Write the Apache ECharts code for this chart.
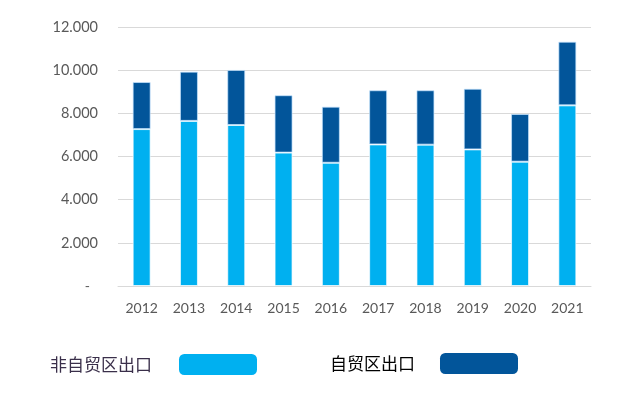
<!DOCTYPE html>
<html><head><meta charset="utf-8">
<script src="https://cdn.jsdelivr.net/npm/echarts@6/dist/echarts.min.js"></script>
<style>html,body{margin:0;padding:0;background:#fff}#c{width:619px;height:395px}</style>
</head><body><div id="c"></div>
<script>
const years = ['2012','2013','2014','2015','2016','2017','2018','2019','2020','2021'];
const nonFtz = [7.27, 7.65, 7.46, 6.18, 5.71, 6.56, 6.55, 6.33, 5.76, 8.37];
const ftz = [2.18, 2.28, 2.55, 2.66, 2.60, 2.51, 2.52, 2.81, 2.21, 2.95];
const seriesNames = ['非自贸区出口', '自贸区出口'];
const yTicks = [0, 2, 4, 6, 8, 10, 12];

const chart = echarts.init(document.getElementById('c'), null, {renderer: 'canvas'});
chart.setOption({
  animation: false,
  grid: {left: 118, right: 28, top: 27, bottom: 109},
  legend: [
    {data: [{name: seriesNames[0]}], left: 45, top: 349, align: 'right', itemWidth: 78, itemHeight: 21,
     icon: 'roundRect', itemStyle: {borderWidth: 0},
     textStyle: {fontFamily: 'Noto Sans CJK SC', fontSize: 17, color: '#3a2f4a', padding: [0, 22, 0, 0]}},
    {data: [{name: seriesNames[1]}], left: 325, top: 348, align: 'right', itemWidth: 78, itemHeight: 21,
     icon: 'roundRect', itemStyle: {borderWidth: 0},
     textStyle: {fontFamily: 'Noto Sans CJK SC', fontSize: 17, color: '#000', padding: [0, 20, 0, 0]}}
  ],
  xAxis: {
    type: 'category', data: years,
    axisLine: {lineStyle: {color: '#d9d9d9', width: 1}},
    axisTick: {show: false},
    axisLabel: {fontFamily: 'Lato', fontSize: 14, color: '#595959', margin: 15}
  },
  yAxis: {
    type: 'value', min: yTicks[0], max: yTicks[yTicks.length - 1], interval: 2,
    axisLine: {show: false}, axisTick: {show: false},
    splitLine: {lineStyle: {color: '#d9d9d9', width: 1}},
    axisLabel: {
      fontFamily: 'Lato', fontSize: 14.5, color: '#595959', margin: 20,
      formatter: v => v === 0 ? '{d|-}' : v.toFixed(3),
      rich: {d: {fontFamily: 'Lato', fontSize: 14, color: '#595959', padding: [0, 8, 0, 0]}}
    }
  },
  series: [
    {name: seriesNames[0], type: 'bar', stack: 't', data: nonFtz, barWidth: 18,
     itemStyle: {color: '#00B0F0', borderColor: 'rgba(255,255,255,0.7)', borderWidth: 1}},
    {name: seriesNames[1], type: 'bar', stack: 't', data: ftz, barWidth: 18,
     itemStyle: {color: '#02559A', borderColor: 'rgba(200,230,255,0.7)', borderWidth: 1}}
  ]
});
</script></body></html>
